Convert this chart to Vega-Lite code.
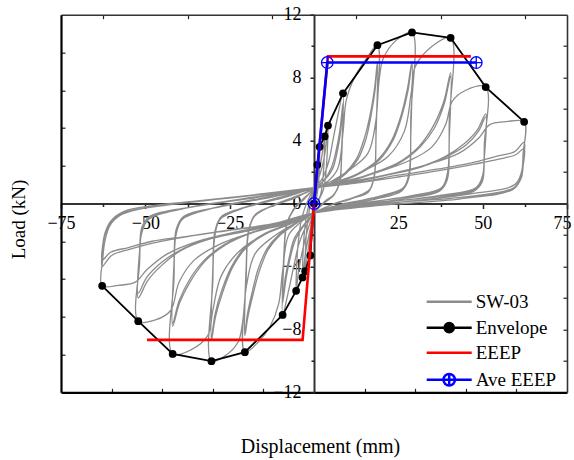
{
  "$schema": "https://vega.github.io/schema/vega-lite/v6.json",
  "width": 506,
  "height": 377.6,
  "autosize": {"type": "none"},
  "padding": {"left": 61, "top": 14.7, "right": 7, "bottom": 67.7},
  "config": {
    "view": {"stroke": null},
    "font": "Liberation Serif",
    "axis": {
      "grid": false,
      "labelFont": "Liberation Serif",
      "titleFont": "Liberation Serif",
      "labelColor": "#000",
      "titleColor": "#000",
      "titleFontWeight": "normal",
      "tickColor": "#222",
      "domainColor": "#222"
    }
  },
  "datasets": {
    "hysteresis": [
      {"disp":0,"load":0},
      {"disp":0.5,"load":1.4},{"disp":0.98,"load":2.46},{"disp":0.8,"load":1.0},{"disp":0.3,"load":0.0},{"disp":-0.3,"load":-1.0},{"disp":-0.8,"load":-2.3},{"disp":-1.1,"load":-3.3},{"disp":-0.9,"load":-1.5},{"disp":-0.4,"load":-0.3},{"disp":0,"load":0.4},
      {"disp":0.6,"load":1.6},{"disp":1.2,"load":2.6},{"disp":1.67,"load":3.6},{"disp":1.4,"load":1.4},{"disp":0.7,"load":0.3},{"disp":0,"load":-0.5},{"disp":-1.0,"load":-1.8},{"disp":-1.9,"load":-3.2},{"disp":-2.6,"load":-4.3},{"disp":-2.3,"load":-2.0},{"disp":-1.4,"load":-0.4},{"disp":-0.5,"load":0.4},{"disp":0,"load":0.7},
      {"disp":1.0,"load":1.5},{"disp":2.0,"load":2.6},{"disp":2.7,"load":3.5},{"disp":3.15,"load":4.26},{"disp":2.8,"load":2.0},{"disp":2.0,"load":0.6},{"disp":0.8,"load":0},{"disp":0,"load":-0.6},{"disp":-1.2,"load":-1.7},{"disp":-2.4,"load":-3.0},{"disp":-3.0,"load":-4.0},{"disp":-3.4,"load":-4.7},{"disp":-3.0,"load":-2.2},{"disp":-2.0,"load":-0.5},{"disp":-0.8,"load":0.4},{"disp":0,"load":0.8},
      {"disp":1.2,"load":1.5},{"disp":2.5,"load":2.4},{"disp":3.4,"load":3.4},{"disp":4.14,"load":4.95},{"disp":3.7,"load":2.4},{"disp":2.8,"load":0.9},{"disp":1.2,"load":0.1},{"disp":0,"load":-0.6},{"disp":-1.6,"load":-1.5},{"disp":-3.2,"load":-2.8},{"disp":-4.5,"load":-4.2},{"disp":-5.3,"load":-5.55},{"disp":-4.8,"load":-2.8},{"disp":-3.6,"load":-0.9},{"disp":-1.6,"load":0.3},{"disp":0,"load":0.9},
      {"disp":2.5,"load":1.6},{"disp":4.4,"load":2.7},{"disp":5.6,"load":4.0},{"disp":6.8,"load":5.3},{"disp":8.6,"load":7.0},{"disp":8.2,"load":3.5},{"disp":7.6,"load":1.4},{"disp":6.0,"load":0.6},{"disp":3.0,"load":0.1},{"disp":0,"load":-0.6},{"disp":-2.5,"load":-1.5},{"disp":-4.5,"load":-2.6},{"disp":-6.0,"load":-4.0},{"disp":-7.5,"load":-5.5},{"disp":-9.3,"load":-7.08},{"disp":-8.9,"load":-3.6},{"disp":-8.2,"load":-1.5},{"disp":-6.4,"load":-0.5},{"disp":-3.2,"load":0.3},{"disp":0,"load":0.9},
      {"disp":3.0,"load":1.5},{"disp":5.2,"load":2.3},{"disp":6.6,"load":3.4},{"disp":7.7,"load":4.7},{"disp":8.6,"load":6.4},{"disp":8.2,"load":3.1},{"disp":7.6,"load":1.3},{"disp":5.8,"load":0.5},{"disp":2.8,"load":0.0},{"disp":0,"load":-0.6},{"disp":-3.0,"load":-1.4},{"disp":-5.5,"load":-2.3},{"disp":-7.1,"load":-3.5},{"disp":-8.3,"load":-4.8},{"disp":-9.3,"load":-6.3},{"disp":-8.9,"load":-3.2},{"disp":-8.2,"load":-1.4},{"disp":-6.2,"load":-0.4},{"disp":-3.0,"load":0.3},{"disp":0,"load":0.9},
      {"disp":3.2,"load":1.5},{"disp":5.5,"load":2.2},{"disp":6.9,"load":3.3},{"disp":7.9,"load":4.6},{"disp":8.6,"load":6.2},{"disp":8.2,"load":3.0},{"disp":7.5,"load":1.2},{"disp":5.6,"load":0.5},{"disp":2.6,"load":0.0},{"disp":0,"load":-0.6},{"disp":-3.2,"load":-1.4},{"disp":-5.8,"load":-2.2},{"disp":-7.3,"load":-3.4},{"disp":-8.5,"load":-4.7},{"disp":-9.3,"load":-6.1},{"disp":-8.9,"load":-3.1},{"disp":-8.1,"load":-1.3},{"disp":-6.0,"load":-0.4},{"disp":-2.8,"load":0.3},{"disp":0,"load":0.9},
      {"disp":4,"load":1.4},{"disp":7,"load":2.2},{"disp":8.6,"load":4.5},{"disp":9.6,"load":6.6},{"disp":12,"load":8.0},{"disp":15.5,"load":9.2},{"disp":18.8,"load":10.06},{"disp":18.4,"load":5.0},{"disp":17.9,"load":1.8},{"disp":16.5,"load":0.9},{"disp":12,"load":0.4},{"disp":6,"load":0.0},{"disp":0,"load":-0.6},{"disp":-4,"load":-1.2},{"disp":-7.5,"load":-2.0},{"disp":-9.3,"load":-4.3},{"disp":-10.5,"load":-6.4},{"disp":-13,"load":-7.8},{"disp":-16.5,"load":-8.8},{"disp":-20.5,"load":-9.45},{"disp":-20.1,"load":-4.8},{"disp":-19.5,"load":-2.0},{"disp":-18,"load":-0.9},{"disp":-13,"load":-0.2},{"disp":-6,"load":0.4},{"disp":0,"load":0.9},
      {"disp":5,"load":1.3},{"disp":9,"load":1.9},{"disp":12.5,"load":2.8},{"disp":15,"load":4.2},{"disp":16.8,"load":5.8},{"disp":18,"load":7.4},{"disp":18.8,"load":9.0},{"disp":18.4,"load":4.5},{"disp":17.8,"load":1.7},{"disp":16.2,"load":0.8},{"disp":11,"load":0.3},{"disp":5,"load":-0.1},{"disp":0,"load":-0.6},{"disp":-5.5,"load":-1.3},{"disp":-10,"load":-2.0},{"disp":-13.5,"load":-2.9},{"disp":-16.2,"load":-4.3},{"disp":-18.2,"load":-5.9},{"disp":-19.6,"load":-7.2},{"disp":-20.5,"load":-8.4},{"disp":-20.1,"load":-4.2},{"disp":-19.4,"load":-1.8},{"disp":-17.6,"load":-0.8},{"disp":-12,"load":-0.1},{"disp":-5.5,"load":0.4},{"disp":0,"load":0.9},
      {"disp":5.5,"load":1.3},{"disp":9.5,"load":1.9},{"disp":13,"load":2.8},{"disp":15.4,"load":4.1},{"disp":17,"load":5.7},{"disp":18.1,"load":7.2},{"disp":18.8,"load":8.8},{"disp":18.4,"load":4.4},{"disp":17.8,"load":1.6},{"disp":16,"load":0.7},{"disp":10.5,"load":0.3},{"disp":5,"load":-0.1},{"disp":0,"load":-0.6},{"disp":-6,"load":-1.3},{"disp":-10.5,"load":-2.0},{"disp":-14,"load":-2.9},{"disp":-16.6,"load":-4.2},{"disp":-18.5,"load":-5.8},{"disp":-19.7,"load":-7.0},{"disp":-20.5,"load":-8.2},{"disp":-20.1,"load":-4.0},{"disp":-19.4,"load":-1.7},{"disp":-17.4,"load":-0.7},{"disp":-11.5,"load":-0.1},{"disp":-5,"load":0.4},{"disp":0,"load":1.0},
      {"disp":5,"load":1.4},{"disp":11,"load":2.2},{"disp":16,"load":3.2},{"disp":18.3,"load":5.2},{"disp":19.3,"load":7.8},{"disp":20.5,"load":9.2},{"disp":24.5,"load":10.4},{"disp":29.05,"load":10.87},{"disp":28.7,"load":5.5},{"disp":28.2,"load":2.0},{"disp":26.5,"load":1.0},{"disp":20,"load":0.5},{"disp":10,"load":0.0},{"disp":0,"load":-0.6},{"disp":-6,"load":-1.3},{"disp":-12,"load":-2.1},{"disp":-17.5,"load":-3.2},{"disp":-20,"load":-5.2},{"disp":-21.2,"load":-7.6},{"disp":-22.5,"load":-8.8},{"disp":-26.5,"load":-9.7},{"disp":-30.4,"load":-10.02},{"disp":-30,"load":-5.0},{"disp":-29.4,"load":-2.1},{"disp":-27.8,"load":-1.0},{"disp":-21,"load":-0.3},{"disp":-10,"load":0.4},{"disp":0,"load":1.0},
      {"disp":6,"load":1.3},{"disp":13,"load":1.9},{"disp":19,"load":2.8},{"disp":23,"load":4.0},{"disp":25.8,"load":5.6},{"disp":27.7,"load":7.3},{"disp":29.05,"load":9.0},{"disp":28.7,"load":4.5},{"disp":28.1,"load":1.7},{"disp":26.2,"load":0.9},{"disp":19,"load":0.4},{"disp":9,"load":0.0},{"disp":0,"load":-0.6},{"disp":-7,"load":-1.3},{"disp":-14,"load":-1.9},{"disp":-20,"load":-2.8},{"disp":-24,"load":-4.0},{"disp":-27,"load":-5.6},{"disp":-29.2,"load":-7.2},{"disp":-30.4,"load":-8.7},{"disp":-30,"load":-4.3},{"disp":-29.3,"load":-1.8},{"disp":-27.5,"load":-0.9},{"disp":-20,"load":-0.2},{"disp":-9,"load":0.4},{"disp":0,"load":1.0},
      {"disp":6.5,"load":1.3},{"disp":13.5,"load":1.9},{"disp":19.5,"load":2.8},{"disp":23.4,"load":4.0},{"disp":26.1,"load":5.6},{"disp":27.9,"load":7.2},{"disp":29.05,"load":8.9},{"disp":28.7,"load":4.4},{"disp":28.1,"load":1.6},{"disp":26,"load":0.8},{"disp":18.5,"load":0.3},{"disp":8.5,"load":-0.1},{"disp":0,"load":-0.6},{"disp":-7.5,"load":-1.3},{"disp":-14.5,"load":-1.9},{"disp":-20.5,"load":-2.8},{"disp":-24.4,"load":-4.0},{"disp":-27.3,"load":-5.5},{"disp":-29.3,"load":-7.0},{"disp":-30.4,"load":-8.5},{"disp":-30,"load":-4.2},{"disp":-29.3,"load":-1.7},{"disp":-27.3,"load":-0.8},{"disp":-19.5,"load":-0.2},{"disp":-8.5,"load":0.4},{"disp":0,"load":1.0},
      {"disp":7,"load":1.4},{"disp":15,"load":2.1},{"disp":22,"load":3.0},{"disp":26.8,"load":4.6},{"disp":28.8,"load":7.0},{"disp":30,"load":8.7},{"disp":35,"load":10.0},{"disp":40.5,"load":10.53},{"disp":40.1,"load":5.3},{"disp":39.6,"load":2.0},{"disp":37.8,"load":1.0},{"disp":29,"load":0.5},{"disp":14,"load":0.0},{"disp":0,"load":-0.6},{"disp":-7,"load":-1.3},{"disp":-15,"load":-2.0},{"disp":-22,"load":-3.0},{"disp":-27.5,"load":-4.6},{"disp":-30,"load":-6.8},{"disp":-31.5,"load":-8.4},{"disp":-36.5,"load":-9.3},{"disp":-41.9,"load":-9.56},{"disp":-41.5,"load":-4.8},{"disp":-40.9,"load":-2.0},{"disp":-39,"load":-1.0},{"disp":-30,"load":-0.3},{"disp":-14,"load":0.4},{"disp":0,"load":1.0},
      {"disp":8,"load":1.3},{"disp":17,"load":1.9},{"disp":25,"load":2.6},{"disp":31,"load":3.6},{"disp":35.3,"load":4.9},{"disp":38.5,"load":6.5},{"disp":40.5,"load":8.3},{"disp":40.1,"load":4.2},{"disp":39.5,"load":1.6},{"disp":37.5,"load":0.9},{"disp":27,"load":0.4},{"disp":13,"load":0.0},{"disp":0,"load":-0.6},{"disp":-8,"load":-1.3},{"disp":-17.5,"load":-1.8},{"disp":-26,"load":-2.6},{"disp":-32,"load":-3.6},{"disp":-36.5,"load":-4.9},{"disp":-39.8,"load":-6.3},{"disp":-41.9,"load":-7.8},{"disp":-41.5,"load":-3.9},{"disp":-40.8,"load":-1.7},{"disp":-38.7,"load":-0.9},{"disp":-28,"load":-0.2},{"disp":-13,"load":0.4},{"disp":0,"load":1.0},
      {"disp":8.5,"load":1.3},{"disp":17.5,"load":1.9},{"disp":25.5,"load":2.6},{"disp":31.5,"load":3.6},{"disp":35.7,"load":4.8},{"disp":38.7,"load":6.4},{"disp":40.5,"load":8.1},{"disp":40.1,"load":4.1},{"disp":39.5,"load":1.5},{"disp":37.3,"load":0.8},{"disp":26.5,"load":0.3},{"disp":12.5,"load":-0.1},{"disp":0,"load":-0.6},{"disp":-8.5,"load":-1.3},{"disp":-18,"load":-1.8},{"disp":-26.5,"load":-2.6},{"disp":-32.5,"load":-3.6},{"disp":-36.8,"load":-4.8},{"disp":-40,"load":-6.2},{"disp":-41.9,"load":-7.6},{"disp":-41.5,"load":-3.8},{"disp":-40.8,"load":-1.6},{"disp":-38.5,"load":-0.8},{"disp":-27.5,"load":-0.2},{"disp":-12.5,"load":0.4},{"disp":0,"load":1.0},
      {"disp":9,"load":1.4},{"disp":19,"load":2.0},{"disp":28,"load":2.7},{"disp":35,"load":3.6},{"disp":39,"load":5.0},{"disp":41,"load":6.5},{"disp":45,"load":7.2},{"disp":50.9,"load":7.4},{"disp":50.5,"load":3.8},{"disp":50,"load":1.8},{"disp":48,"load":1.0},{"disp":37,"load":0.5},{"disp":18,"load":0.0},{"disp":0,"load":-0.6},{"disp":-9,"load":-1.3},{"disp":-19,"load":-1.9},{"disp":-28,"load":-2.6},{"disp":-35.5,"load":-3.6},{"disp":-40,"load":-5.0},{"disp":-42.5,"load":-6.8},{"disp":-47,"load":-7.4},{"disp":-52.1,"load":-7.48},{"disp":-51.7,"load":-3.8},{"disp":-51.1,"load":-1.9},{"disp":-49,"load":-1.0},{"disp":-38,"load":-0.3},{"disp":-18,"load":0.4},{"disp":0,"load":1.0},
      {"disp":10,"load":1.3},{"disp":21,"load":1.8},{"disp":31,"load":2.3},{"disp":39,"load":3.0},{"disp":44.5,"load":3.8},{"disp":48.5,"load":4.7},{"disp":50.9,"load":5.7},{"disp":50.5,"load":3.0},{"disp":49.9,"load":1.5},{"disp":47.7,"load":0.9},{"disp":35,"load":0.4},{"disp":17,"load":0.0},{"disp":0,"load":-0.6},{"disp":-10,"load":-1.3},{"disp":-21,"load":-1.8},{"disp":-31.5,"load":-2.3},{"disp":-39.5,"load":-3.0},{"disp":-45,"load":-3.9},{"disp":-49.3,"load":-4.9},{"disp":-52.1,"load":-6.0},{"disp":-51.7,"load":-3.2},{"disp":-51,"load":-1.6},{"disp":-48.8,"load":-0.9},{"disp":-36,"load":-0.2},{"disp":-17,"load":0.4},{"disp":0,"load":1.0},
      {"disp":10.5,"load":1.3},{"disp":21.5,"load":1.8},{"disp":31.5,"load":2.3},{"disp":39.5,"load":3.0},{"disp":45,"load":3.7},{"disp":48.8,"load":4.6},{"disp":50.9,"load":5.5},{"disp":50.5,"load":2.9},{"disp":49.9,"load":1.4},{"disp":47.5,"load":0.8},{"disp":34.5,"load":0.3},{"disp":16.5,"load":-0.1},{"disp":0,"load":-0.6},{"disp":-10.5,"load":-1.3},{"disp":-21.5,"load":-1.8},{"disp":-32,"load":-2.3},{"disp":-40,"load":-3.0},{"disp":-45.5,"load":-3.8},{"disp":-49.6,"load":-4.7},{"disp":-52.1,"load":-5.7},{"disp":-51.7,"load":-3.0},{"disp":-51,"load":-1.5},{"disp":-48.6,"load":-0.8},{"disp":-35.5,"load":-0.2},{"disp":-16.5,"load":0.4},{"disp":0,"load":1.0},
      {"disp":11,"load":1.4},{"disp":23,"load":1.9},{"disp":34,"load":2.5},{"disp":43,"load":3.2},{"disp":49,"load":4.2},{"disp":52,"load":5.0},{"disp":57,"load":5.2},{"disp":62.3,"load":5.19},{"disp":62,"load":3.2},{"disp":61.5,"load":2.0},{"disp":59.5,"load":1.2},{"disp":46,"load":0.6},{"disp":22,"load":0.0},{"disp":0,"load":-0.6},{"disp":-11,"load":-1.3},{"disp":-23,"load":-1.8},{"disp":-34.5,"load":-2.4},{"disp":-43.5,"load":-3.2},{"disp":-49.5,"load":-4.2},{"disp":-53,"load":-5.0},{"disp":-58,"load":-5.2},{"disp":-62.8,"load":-5.23},{"disp":-62.6,"load":-3.5},{"disp":-62,"load":-2.4},{"disp":-60.5,"load":-1.4},{"disp":-57,"load":-0.7},{"disp":-48,"load":-0.2},{"disp":-24,"load":0.4},{"disp":0,"load":1.0},
      {"disp":12,"load":1.3},{"disp":25,"load":1.8},{"disp":37,"load":2.2},{"disp":47,"load":2.6},{"disp":54,"load":3.0},{"disp":59.5,"load":3.3},{"disp":62.3,"load":3.9},{"disp":62,"load":2.6},{"disp":61.4,"load":1.7},{"disp":59.2,"load":1.0},{"disp":44,"load":0.4},{"disp":21,"load":0.0},{"disp":0,"load":-0.6},{"disp":-12,"load":-1.3},{"disp":-25,"load":-1.7},{"disp":-37.5,"load":-2.1},{"disp":-47.5,"load":-2.5},{"disp":-54.5,"load":-2.9},{"disp":-60,"load":-3.3},{"disp":-62.8,"load":-4.0},{"disp":-62.6,"load":-2.8},{"disp":-62,"load":-2.0},{"disp":-60.3,"load":-1.2},{"disp":-56.5,"load":-0.6},{"disp":-47,"load":-0.2},{"disp":-23,"load":0.4},{"disp":0,"load":1.0},
      {"disp":12.5,"load":1.3},{"disp":25.5,"load":1.7},{"disp":37.5,"load":2.1},{"disp":47.5,"load":2.5},{"disp":54.5,"load":2.8},{"disp":59.8,"load":3.1},{"disp":62.3,"load":3.5},{"disp":62,"load":2.4},{"disp":61.4,"load":1.6},{"disp":59,"load":0.9},{"disp":43.5,"load":0.3},{"disp":20.5,"load":-0.1},{"disp":0,"load":-0.6},{"disp":-12.5,"load":-1.3},{"disp":-25.5,"load":-1.7},{"disp":-38,"load":-2.1},{"disp":-48,"load":-2.4},{"disp":-55,"load":-2.8},{"disp":-60.3,"load":-3.1},{"disp":-62.8,"load":-3.6},{"disp":-62.6,"load":-2.6},{"disp":-62,"load":-1.9},{"disp":-60.2,"load":-1.1},{"disp":-56.3,"load":-0.5},{"disp":-46.5,"load":-0.1},{"disp":-22.5,"load":0.4},{"disp":0,"load":1.0}
    ],
    "envelope": [
      {"disp":-62.8,"load":-5.23},{"disp":-52.1,"load":-7.48},{"disp":-41.9,"load":-9.56},{"disp":-30.4,"load":-10.02},{"disp":-20.5,"load":-9.45},{"disp":-9.3,"load":-7.08},{"disp":-5.3,"load":-5.55},{"disp":-3.4,"load":-4.7},{"disp":-2.6,"load":-4.3},{"disp":-1.1,"load":-3.3},{"disp":0,"load":0},{"disp":0.98,"load":2.46},{"disp":1.67,"load":3.6},{"disp":3.15,"load":4.26},{"disp":4.14,"load":4.95},{"disp":8.6,"load":7.0},{"disp":18.8,"load":10.06},{"disp":29.05,"load":10.87},{"disp":40.5,"load":10.53},{"disp":50.9,"load":7.4},{"disp":62.3,"load":5.19}
    ],
    "eeep": [
      {"disp":-49.5,"load":-8.67},{"disp":-3.38,"load":-8.67},{"disp":0,"load":0},{"disp":4.15,"load":9.35},{"disp":46.5,"load":9.35}
    ],
    "ave_eeep": [
      {"disp":0,"load":0},{"disp":3.94,"load":8.96},{"disp":48.1,"load":8.96}
    ]
  },
  "layer": [
    {
      "data": {"name": "hysteresis"},
      "mark": {"type": "line", "strokeWidth": 1.3, "interpolate": "catmull-rom", "strokeJoin": "round"},
      "encoding": {
        "x": {"field": "disp", "type": "quantitative", "scale": {"domain": [-75, 75], "nice": false, "zero": false},
          "axis": {"orient": "bottom", "offset": -188.8, "values": [-75, -50, -25, 25, 50, 75], "tickSize": 5, "tickWidth": 1.5, "domainWidth": 2, "domainColor": "#333", "labelFontSize": 18, "labelPadding": 6, "labelFlush": false, "labelOverlap": false, "title": null,
            "labelAlign": {"expr": "datum.value === 75 ? 'right' : 'center'"},
            "labelOffset": {"expr": "datum.value === 75 ? 4 : 0"}}},
        "y": {"field": "load", "type": "quantitative", "scale": {"domain": [-12, 12], "nice": false, "zero": false},
          "axis": {"orient": "left", "offset": -253, "values": [-12, -8, -4, 0, 4, 8, 12], "tickSize": 4, "tickWidth": 1.5, "domainWidth": 2, "domainColor": "#333", "labelFontSize": 18, "labelPadding": 9, "labelFlush": false, "labelOverlap": false, "title": null}},
        "color": {"datum": "SW-03", "type": "nominal",
          "scale": {"domain": ["SW-03", "Envelope", "EEEP", "Ave EEEP"], "range": ["#8c8c8c", "#000000", "#ff0000", "#0000ff"]},
          "legend": {
            "orient": "none", "legendX": 378.7, "legendY": 277.5, "title": null, "padding": 0,
            "labelFont": "Liberation Serif", "labelFontSize": 19, "labelColor": "#000", "labelOffset": 17,
            "symbolSize": 100, "symbolStrokeWidth": 2.5, "symbolOffset": 0, "symbolOpacity": 1, "rowPadding": 5,
            "encode": {
              "symbols": {
                "update": {
                  "shape": {"signal": "datum.value === 'Envelope' ? 'M-4.5,0H4.5M-0.92,0A0.92,0.92 0 1 0 0.92,0A0.92,0.92 0 1 0 -0.92,0Z' : datum.value === 'Ave EEEP' ? 'M-4.5,0H4.5M-1.15,0A1.15,1.15 0 0 1 1.15,0A1.15,1.15 0 0 0 -1.15,0M-1.15,0A1.15,1.15 0 0 0 1.15,0A1.15,1.15 0 0 1 -1.15,0M0,-1.15V1.15M0,1.15V-1.15' : 'M-4.5,0H4.5'"},
                  "stroke": {"scale": "color", "field": "value"},
                  "opacity": {"value": 1}
                }
              }
            }
          }
        },
        "order": {"value": null}
      }
    },
    {
      "data": {"name": "envelope"},
      "mark": {"type": "line", "strokeWidth": 1.8},
      "encoding": {
        "x": {"field": "disp", "type": "quantitative", "scale": {"domain": [-75, 75], "nice": false, "zero": false},
          "axis": {"orient": "bottom", "offset": -188.8, "values": [-62.5, -37.5, -12.5, 12.5, 37.5, 62.5], "tickSize": 3, "tickWidth": 1.5, "labels": false, "domain": false, "title": null}},
        "y": {"field": "load", "type": "quantitative", "scale": {"domain": [-12, 12], "nice": false, "zero": false},
          "axis": {"orient": "left", "offset": -253, "values": [-10, -6, -2, 2, 6, 10], "tickSize": 3, "tickWidth": 1.5, "labels": false, "domain": false, "title": null}},
        "color": {"datum": "Envelope", "type": "nominal"},
        "order": {"value": null}
      }
    },
    {
      "data": {"name": "envelope"},
      "mark": {"type": "point", "filled": true, "size": 60, "opacity": 1},
      "encoding": {
        "x": {"field": "disp", "type": "quantitative", "scale": {"domain": [-75, 75], "nice": false, "zero": false},
          "axis": {"orient": "bottom", "values": [-60, -45, -30, -15, 15, 30, 45, 60], "tickSize": -4, "tickWidth": 1.2, "labels": false, "domainColor": "#000", "domainWidth": 2.2,
            "title": "Displacement (mm)", "titleFontSize": 20, "titlePadding": 44, "titleX": 259}},
        "y": {"field": "load", "type": "quantitative", "scale": {"domain": [-12, 12], "nice": false, "zero": false},
          "axis": {"orient": "left", "values": [-9.6, -7.2, -4.8, -2.4, 2.4, 4.8, 7.2, 9.6], "tickSize": -4, "tickWidth": 1.2, "labels": false, "domainColor": "#000", "domainWidth": 2.2,
            "title": "Load (kN)", "titleFontSize": 19, "titlePadding": 32, "titleY": 204.3}},
        "color": {"datum": "Envelope", "type": "nominal"}
      }
    },
    {
      "data": {"name": "eeep"},
      "mark": {"type": "line", "strokeWidth": 2.6},
      "encoding": {
        "x": {"field": "disp", "type": "quantitative", "scale": {"domain": [-75, 75], "nice": false, "zero": false},
          "axis": {"orient": "top", "values": [-62.5, -37.5, -12.5, 12.5, 37.5, 62.5], "tickSize": -4, "tickWidth": 1.2, "labels": false, "domainColor": "#333", "domainWidth": 1.6, "title": null}},
        "y": {"field": "load", "type": "quantitative", "scale": {"domain": [-12, 12], "nice": false, "zero": false},
          "axis": {"orient": "right", "values": [-10, -8, -6, -4, -2, 2, 4, 6, 8, 10], "tickSize": -4, "tickWidth": 1.2, "labels": false, "domainColor": "#333", "domainWidth": 1.6, "title": null}},
        "color": {"datum": "EEEP", "type": "nominal"},
        "order": {"value": null}
      }
    },
    {
      "data": {"name": "ave_eeep"},
      "mark": {"type": "line", "strokeWidth": 2.6},
      "encoding": {
        "x": {"field": "disp", "type": "quantitative", "scale": {"domain": [-75, 75], "nice": false, "zero": false}, "axis": null},
        "y": {"field": "load", "type": "quantitative", "scale": {"domain": [-12, 12], "nice": false, "zero": false}, "axis": null},
        "color": {"datum": "Ave EEEP", "type": "nominal"},
        "order": {"value": null}
      }
    },
    {
      "data": {"name": "ave_eeep"},
      "mark": {"type": "point", "shape": "M-1,0A1,1 0 1 0 1,0A1,1 0 1 0 -1,0ZM-1,0H1M0,-1V1", "size": 135, "filled": false, "strokeWidth": 1.3, "opacity": 1},
      "encoding": {
        "x": {"field": "disp", "type": "quantitative", "scale": {"domain": [-75, 75], "nice": false, "zero": false}, "axis": null},
        "y": {"field": "load", "type": "quantitative", "scale": {"domain": [-12, 12], "nice": false, "zero": false}, "axis": null},
        "color": {"datum": "Ave EEEP", "type": "nominal"}
      }
    }
  ],
  "resolve": {"axis": {"x": "independent", "y": "independent"}}
}
